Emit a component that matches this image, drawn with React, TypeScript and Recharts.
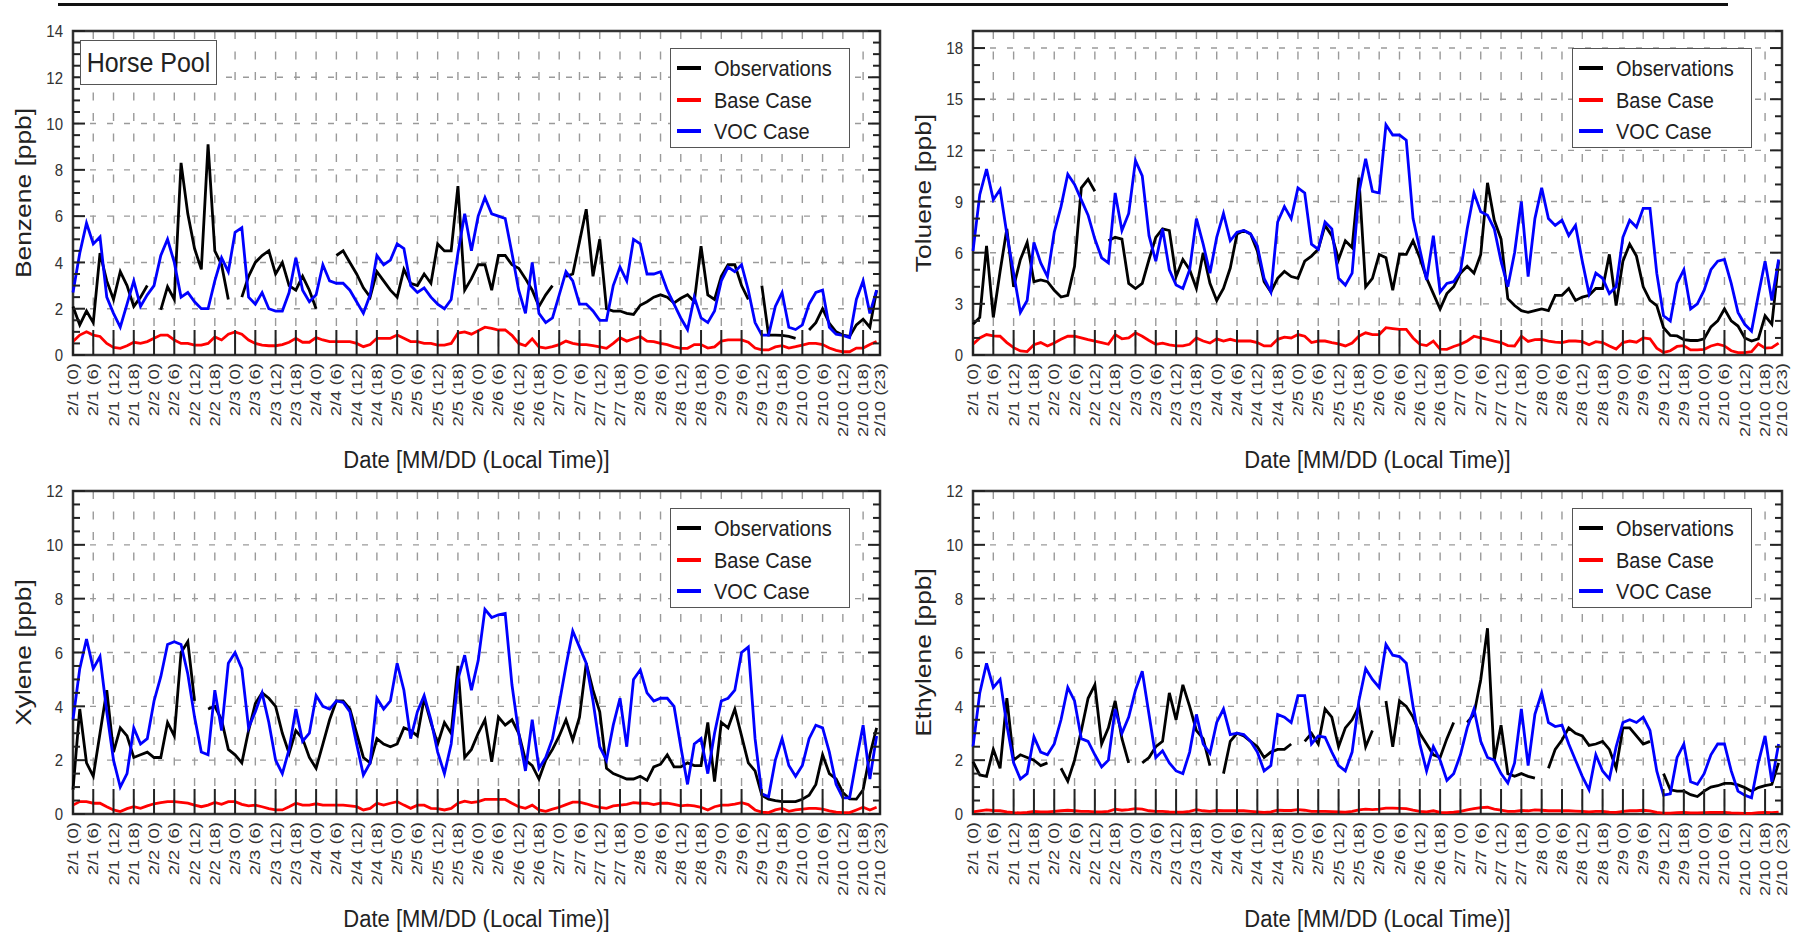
import React from 'react';
import { LineChart, Line, XAxis, YAxis, CartesianGrid, ReferenceArea } from 'recharts';

// hourly model/obs time series, sampled every 2 hours from 2/1 00:00 to 2/10 22:00
const HOURS = Array.from({ length: 120 }, (_, i) => i * 2);
const X_TICKS = [
  0, 6, 12, 18, 24, 30, 36, 42, 48, 54, 60, 66, 72, 78, 84, 90, 96, 102, 108, 114,
  120, 126, 132, 138, 144, 150, 156, 162, 168, 174, 180, 186, 192, 198, 204, 210,
  216, 222, 228, 234, 239,
];
const DAYS = ['2/1', '2/2', '2/3', '2/4', '2/5', '2/6', '2/7', '2/8', '2/9', '2/10'];

const BENZENE_OBS = [
  2.1, 1.3, 1.9, 1.4, 4.4, 3.2, 2.4, 3.6, 3.0, 2.1, 2.5, 3.0,
  null, 1.95, 2.95, 2.4, 8.3, 6.1, 4.6, 3.7, 9.1, 4.5, 3.9, 2.4,
  null, 2.5, 3.4, 4.0, 4.3, 4.5, 3.5, 4.0, 3.0, 2.8, 3.4, 2.8,
  2.0, null, null, 4.3, 4.5, 4.0, 3.5, 2.9, 2.5, 3.6, 3.2, 2.8,
  2.5, 3.7, 3.1, 3.0, 3.5, 3.1, 4.8, 4.5, 4.5, 7.3, 2.8, 3.3,
  3.9, 3.9, 2.8, 4.3, 4.3, 3.9, 3.75, 3.3, 2.8, 2.1, 2.6, 3.0,
  null, 3.4, 3.5, 4.9, 6.3, 3.4, 5.0, 2.0, 1.9, 1.9, 1.8, 1.75,
  2.15, 2.3, 2.5, 2.6, 2.5, 2.25, 2.45, 2.6, 2.3, 4.7, 2.6, 2.4,
  3.4, 3.9, 3.9, 3.0, 2.4, null, 3.0, 0.86, 0.86, 0.85, 0.8, 0.72,
  null, 1.08, 1.4, 2.0, 1.37, 1.0, 0.86, 0.8, 1.3, 1.55, 1.2, 2.8,
];
const BENZENE_BASE = [
  0.58, 0.86, 1.0, 0.86, 0.8, 0.5, 0.33, 0.29, 0.4, 0.55, 0.5, 0.58,
  0.72, 0.86, 0.86, 0.65, 0.5, 0.5, 0.43, 0.43, 0.5, 0.78, 0.65, 0.9,
  1.0, 0.9, 0.65, 0.5, 0.43, 0.4, 0.4, 0.45, 0.55, 0.72, 0.55, 0.55,
  0.75, 0.65, 0.58, 0.58, 0.58, 0.58, 0.5, 0.36, 0.45, 0.72, 0.72, 0.72,
  0.86, 0.72, 0.58, 0.58, 0.5, 0.5, 0.43, 0.43, 0.5, 0.95, 1.0, 0.9,
  1.05, 1.2, 1.15, 1.08, 1.08, 0.85, 0.5, 0.4, 0.7, 0.35, 0.3, 0.36,
  0.45, 0.6, 0.5, 0.45, 0.45, 0.4, 0.35, 0.29, 0.5, 0.75, 0.6, 0.7,
  0.8, 0.6, 0.58, 0.5, 0.45, 0.35, 0.29, 0.29, 0.45, 0.45, 0.3, 0.35,
  0.6, 0.65, 0.65, 0.65, 0.55, 0.3, 0.22, 0.22, 0.35, 0.4, 0.3, 0.36,
  0.43, 0.5, 0.5, 0.45, 0.3, 0.2, 0.14, 0.14, 0.3, 0.3, 0.45, 0.58,
];
const BENZENE_VOC = [
  2.7, 4.4, 5.7, 4.8, 5.1, 2.5, 1.8, 1.2, 2.2, 3.2, 2.1, 2.6,
  3.0, 4.3, 5.0, 4.0, 2.5, 2.7, 2.3, 2.0, 2.0, 3.2, 4.2, 3.6,
  5.3, 5.5, 2.5, 2.2, 2.7, 2.0, 1.9, 1.9, 2.7, 4.2, 2.8, 2.3,
  2.6, 3.9, 3.2, 3.1, 3.1, 2.8, 2.3, 1.8, 2.6, 4.3, 3.9, 4.1,
  4.8, 4.6, 3.0, 2.7, 2.9, 2.5, 2.2, 2.0, 2.4, 4.4, 6.1, 4.5,
  6.0, 6.8, 6.1, 6.0, 5.9, 4.4, 2.8, 1.8, 4.0, 1.8, 1.4, 1.6,
  2.6, 3.6, 3.2, 2.2, 2.2, 1.9, 1.5, 1.5, 3.0, 3.8, 3.2, 5.0,
  4.8, 3.5, 3.5, 3.6, 2.8, 2.2, 1.6, 1.1, 2.5, 1.6, 1.4, 1.9,
  3.2, 3.8, 3.6, 3.9, 2.8, 1.4, 0.86, 0.86, 2.1, 2.7, 1.2, 1.1,
  1.3, 2.2, 2.7, 2.8, 1.2, 0.9, 0.85, 0.75, 2.4, 3.2, 1.8, 2.8,
];

const TOLUENE_OBS = [
  1.8, 2.2, 6.4, 2.2, 4.9, 7.4, 4.0, 5.6, 6.6, 4.3, 4.4, 4.3,
  3.8, 3.4, 3.5, 5.2, 9.8, 10.3, 9.6, null, 6.7, 6.9, 6.8, 4.2,
  3.9, 4.2, 5.6, 6.9, 7.4, 7.3, 4.6, 5.6, 5.0, 3.9, 6.0, 4.2,
  3.2, 3.9, 5.1, 7.1, 7.3, 7.1, 6.1, 4.3, 3.7, 4.5, 4.9, 4.6,
  4.5, 5.5, 5.8, 6.2, 7.6, 7.0, 5.6, 6.7, 6.3, 10.4, 4.0, 4.5,
  5.9, 5.7, 3.8, 5.9, 5.9, 6.7, 5.7, 4.5, 3.6, 2.7, 3.6, 4.0,
  4.8, 5.2, 4.8, 5.9, 10.1, 7.9, 6.8, 3.3, 2.9, 2.6, 2.5, 2.6,
  2.7, 2.6, 3.5, 3.5, 3.9, 3.2, 3.4, 3.5, 3.9, 3.9, 5.9, 2.9,
  5.5, 6.5, 5.8, 4.0, 3.2, 2.9, 1.6, 1.15, 1.12, 0.9, 0.85, 0.85,
  0.95, 1.65, 2.0, 2.7, 2.0, 1.7, 1.0, 0.82, 0.95, 2.3, 1.8, 5.5,
];
const TOLUENE_BASE = [
  0.63, 1.0, 1.2, 1.12, 1.1, 0.73, 0.43, 0.24, 0.2, 0.6, 0.73, 0.53,
  0.7, 0.92, 1.1, 1.1, 1.0, 0.9, 0.82, 0.73, 0.63, 1.2, 0.95, 1.0,
  1.3, 1.1, 0.85, 0.63, 0.7, 0.6, 0.53, 0.53, 0.63, 1.0, 0.82, 0.7,
  0.95, 0.82, 0.92, 0.82, 0.82, 0.82, 0.73, 0.53, 0.53, 0.92, 1.05, 1.0,
  1.2, 1.1, 0.73, 0.82, 0.82, 0.73, 0.65, 0.53, 0.7, 1.1, 1.3, 1.2,
  1.2, 1.6, 1.55, 1.5, 1.5, 1.0, 0.63, 0.55, 0.82, 0.35, 0.33, 0.5,
  0.63, 0.82, 1.1, 1.0, 0.92, 0.82, 0.73, 0.55, 0.53, 1.1, 0.8, 0.9,
  0.92, 0.82, 0.75, 0.73, 0.82, 0.82, 0.78, 0.6, 0.78, 0.73, 0.53, 0.35,
  0.73, 0.82, 0.75, 1.0, 0.95, 0.4, 0.15, 0.25, 0.5, 0.55, 0.3, 0.3,
  0.33, 0.53, 0.63, 0.53, 0.25, 0.14, 0.14, 0.2, 0.65, 0.4, 0.43, 0.7,
];
const TOLUENE_VOC = [
  6.1, 9.4, 10.9, 9.1, 9.7, 7.1, 4.8, 2.5, 3.2, 6.6, 5.4, 4.6,
  7.2, 8.7, 10.6, 10.0, 9.1, 8.2, 6.8, 5.7, 5.4, 9.5, 7.3, 8.3,
  11.4, 10.5, 7.0, 5.5, 7.4, 5.0, 4.1, 3.9, 5.0, 8.0, 6.5, 4.8,
  6.9, 8.3, 6.7, 7.2, 7.3, 7.1, 6.4, 4.5, 3.7, 7.8, 8.7, 8.0,
  9.8, 9.5, 6.5, 6.2, 7.8, 7.4, 4.5, 4.1, 4.8, 9.5, 11.5, 9.6,
  9.5, 13.5, 12.9, 12.9, 12.6, 8.0, 6.2, 4.4, 7.0, 3.7, 4.2, 4.3,
  4.9, 7.4, 9.5, 8.4, 8.2, 7.4, 5.5, 4.0, 6.0, 9.0, 4.6, 8.0,
  9.8, 8.0, 7.6, 7.9, 7.0, 7.6, 5.5, 3.6, 4.8, 4.5, 3.6, 4.0,
  6.9, 7.9, 7.5, 8.6, 8.6, 4.8, 2.3, 2.0, 4.2, 5.0, 2.7, 3.0,
  3.8, 5.0, 5.5, 5.6, 4.2, 2.5, 1.8, 1.4, 3.5, 5.5, 3.2, 5.6,
];

const XYLENE_OBS = [
  0.9, 3.9, 1.9, 1.4, 3.0, 4.6, 2.3, 3.2, 2.9, 2.1, 2.2, 2.3,
  2.1, 2.1, 3.4, 2.9, 6.0, 6.4, 4.2, null, 3.9, 4.0, 3.5, 2.4,
  2.2, 1.9, 3.1, 4.1, 4.5, 4.3, 4.0, 3.0, 2.25, 3.1, 2.8, 2.1,
  1.7, 2.6, 3.5, 4.2, 4.2, 3.9, 3.0, 2.1, 1.9, 2.8, 2.6, 2.5,
  2.6, 3.2, 3.1, 2.9, 4.3, 3.4, 2.6, 3.4, 3.0, 5.5, 2.1, 2.4,
  3.0, 3.5, 1.94, 3.6, 3.3, 3.5, 3.0, 2.0, 1.8, 1.3, 2.0, 2.4,
  2.9, 3.5, 2.75, 3.6, 5.6, 4.6, 3.8, 1.7, 1.5, 1.4, 1.3, 1.3,
  1.4, 1.25, 1.75, 1.85, 2.2, 1.75, 1.75, 1.9, 1.8, 1.8, 3.4, 1.2,
  3.4, 3.2, 3.9, 2.9, 1.9, 1.6, 0.7, 0.55, 0.5, 0.46, 0.46, 0.46,
  0.55, 0.7, 1.1, 2.2, 1.5, 1.3, 0.8, 0.56, 0.55, 0.9, 2.2, 3.2,
];
const XYLENE_BASE = [
  0.33, 0.46, 0.46, 0.4, 0.4, 0.27, 0.15, 0.09, 0.2, 0.27, 0.21, 0.3,
  0.38, 0.42, 0.46, 0.46, 0.43, 0.4, 0.33, 0.27, 0.33, 0.43, 0.36, 0.46,
  0.46, 0.36, 0.3, 0.33, 0.27, 0.2, 0.15, 0.15, 0.27, 0.4, 0.33, 0.33,
  0.38, 0.33, 0.33, 0.33, 0.33, 0.3, 0.27, 0.15, 0.21, 0.4, 0.33, 0.4,
  0.46, 0.33, 0.21, 0.33, 0.33, 0.21, 0.2, 0.15, 0.21, 0.4, 0.48, 0.42,
  0.46, 0.54, 0.54, 0.54, 0.54, 0.4, 0.27, 0.21, 0.33, 0.15, 0.1, 0.18,
  0.25, 0.35, 0.44, 0.44, 0.38, 0.3, 0.25, 0.21, 0.3, 0.33, 0.36, 0.42,
  0.4, 0.4, 0.35, 0.4, 0.4, 0.36, 0.3, 0.33, 0.3, 0.25, 0.15, 0.27,
  0.33, 0.33, 0.37, 0.42, 0.35, 0.15, 0.07, 0.05, 0.15, 0.21, 0.1, 0.15,
  0.18, 0.21, 0.21, 0.18, 0.12, 0.07, 0.05, 0.05, 0.15, 0.25, 0.15, 0.25,
];
const XYLENE_VOC = [
  3.5, 5.4, 6.5, 5.4, 5.85, 3.8, 2.0, 1.0, 1.5, 3.2, 2.6, 2.8,
  4.2, 5.1, 6.3, 6.4, 6.3, 5.2, 3.6, 2.3, 2.2, 4.6, 3.1, 5.6,
  6.0, 5.4, 3.2, 3.8, 4.5, 3.4, 2.0, 1.5, 2.4, 3.9, 2.7, 3.0,
  4.4, 4.0, 3.9, 4.2, 4.15, 3.8, 2.6, 1.45, 1.9, 4.3, 3.9, 4.2,
  5.6, 4.6, 2.8, 3.8, 4.4, 3.5, 2.3, 1.5, 2.6, 5.0, 5.9, 4.6,
  5.7, 7.6, 7.3, 7.4, 7.45, 4.8, 3.0, 1.6, 3.5, 1.7, 2.1, 2.8,
  4.1, 5.5, 6.8, 6.2, 5.6, 4.2, 2.5, 2.0, 3.3, 4.3, 2.5, 5.0,
  5.35, 4.5, 4.2, 4.3, 4.3, 4.0, 2.5, 1.1, 2.6, 2.8, 1.5, 3.0,
  4.2, 4.3, 4.6, 6.0, 6.2, 2.8, 0.75, 0.64, 2.0, 2.8, 1.8, 1.4,
  1.8, 2.8, 3.3, 3.2, 2.3, 1.1, 0.6, 0.6, 2.0, 3.3, 1.3, 2.9,
];

const ETHYLENE_OBS = [
  1.95, 1.45, 1.4, 2.4, 1.7, 4.3, 2.0, 2.2, 2.1, 2.0, 1.8, 1.9,
  null, 1.7, 1.22, 2.0, 3.1, 4.3, 4.8, 2.6, 3.2, 4.2, 2.8, 1.9,
  null, 1.9, 2.1, 2.5, 2.7, 4.5, 3.5, 4.8, 4.0, 3.1, 2.8, 1.8,
  null, 1.5, 2.7, 3.0, 2.9, 2.7, 2.5, 2.1, 2.3, 2.4, 2.4, 2.6,
  null, 2.7, 3.0, 2.6, 3.9, 3.6, 2.5, 3.2, 3.5, 4.0, 2.5, 3.1,
  null, 4.2, 2.5, 4.2, 4.0, 3.6, 3.0, 2.6, 2.2, 2.1, 2.8, 3.4,
  null, 3.4, 3.7, 5.0, 6.9, 2.0, 3.3, 1.5, 1.4, 1.5, 1.4, 1.33,
  null, 1.7, 2.4, 2.75, 3.2, 3.0, 2.9, 2.55, 2.6, 2.7, 2.4, 1.7,
  3.2, 3.2, 2.9, 2.6, 2.7, null, 1.5, 0.9, 0.85, 0.85, 0.72, 0.65,
  0.85, 1.0, 1.05, 1.14, 1.14, 1.08, 0.98, 0.85, 0.98, 1.05, 1.1, 1.9,
];
const ETHYLENE_BASE = [
  0.08, 0.12, 0.15, 0.13, 0.12, 0.08, 0.05, 0.04, 0.06, 0.1, 0.08, 0.08,
  0.1, 0.12, 0.14, 0.12, 0.1, 0.1, 0.08, 0.08, 0.1, 0.18, 0.14, 0.16,
  0.2, 0.18, 0.12, 0.1, 0.1, 0.08, 0.07, 0.07, 0.1, 0.16, 0.12, 0.1,
  0.13, 0.12, 0.12, 0.12, 0.12, 0.1, 0.08, 0.06, 0.08, 0.14, 0.13, 0.13,
  0.16, 0.14, 0.1, 0.1, 0.1, 0.09, 0.08, 0.07, 0.1, 0.15, 0.18, 0.16,
  0.18, 0.22, 0.22, 0.21, 0.2, 0.14, 0.1, 0.08, 0.12, 0.06, 0.05, 0.07,
  0.1, 0.15, 0.2, 0.24, 0.25, 0.18, 0.14, 0.1, 0.1, 0.13, 0.12, 0.15,
  0.14, 0.12, 0.12, 0.12, 0.12, 0.11, 0.1, 0.08, 0.1, 0.1, 0.07, 0.06,
  0.1, 0.12, 0.12, 0.14, 0.12, 0.06, 0.03, 0.03, 0.05, 0.06, 0.04, 0.04,
  0.05, 0.06, 0.06, 0.06, 0.04, 0.03, 0.02, 0.02, 0.05, 0.06, 0.05, 0.07,
];
const ETHYLENE_VOC = [
  2.5, 4.5, 5.6, 4.7, 5.0, 3.3, 1.9, 1.3, 1.5, 2.87, 2.3, 2.2,
  2.6, 3.5, 4.7, 4.2, 2.8, 2.7, 2.2, 1.75, 2.0, 3.9, 3.0, 3.6,
  4.6, 5.3, 3.7, 2.1, 2.35, 1.9, 1.6, 1.5, 2.3, 3.7, 2.6, 2.25,
  3.4, 3.9, 2.95, 3.0, 2.95, 2.7, 2.3, 1.6, 1.8, 3.7, 3.6, 3.4,
  4.4, 4.4, 2.6, 2.9, 2.85, 2.3, 1.8, 1.6, 2.3, 4.2, 5.4, 5.0,
  4.7, 6.3, 5.9, 5.85, 5.6, 4.0, 2.6, 1.6, 2.5, 2.0, 1.25, 1.5,
  2.2, 3.2, 3.9, 2.7, 2.1, 2.0, 1.5, 1.15, 1.9, 3.9, 1.8, 3.7,
  4.5, 3.4, 3.25, 3.3, 2.6, 2.0, 1.4, 0.9, 2.2, 1.6, 1.3, 2.5,
  3.4, 3.5, 3.4, 3.6, 3.1, 1.6, 0.7, 0.75, 2.1, 2.6, 1.2, 1.1,
  1.5, 2.2, 2.6, 2.6, 1.6, 0.85, 0.7, 0.6, 1.9, 2.9, 1.2, 2.6,
];

const SERIES = [
  { key: 'obs', name: 'Observations', color: '#000000' },
  { key: 'base', name: 'Base Case', color: '#ff0000' },
  { key: 'voc', name: 'VOC Case', color: '#0000ff' },
];

const PANELS = [
  { title: 'Benzene [ppb]', left: 73, top: 31, w: 807, h: 324, max: 14, major: 2, minor: 0.5, obs: BENZENE_OBS, base: BENZENE_BASE, voc: BENZENE_VOC },
  { title: 'Toluene [ppb]', left: 973, top: 31, w: 809, h: 324, max: 19, major: 3, minor: 1, obs: TOLUENE_OBS, base: TOLUENE_BASE, voc: TOLUENE_VOC },
  { title: 'Xylene [ppb]', left: 73, top: 491, w: 807, h: 323, max: 12, major: 2, minor: 0.5, obs: XYLENE_OBS, base: XYLENE_BASE, voc: XYLENE_VOC },
  { title: 'Ethylene [ppb]', left: 973, top: 491, w: 809, h: 323, max: 12, major: 2, minor: 0.5, obs: ETHYLENE_OBS, base: ETHYLENE_BASE, voc: ETHYLENE_VOC },
];

const FONT = '"Liberation Sans", Arial, Helvetica, sans-serif';
const Y_AXIS_W = 73;
const PAD_TOP = 31;
const PAD_RIGHT = 20;
const X_AXIS_H = 90;
const PAD_BOTTOM = 40;

const tickLabel = (h) => `${DAYS[Math.floor(h / 24)]} (${h % 24})`;

function steps(max, step) {
  const out = [];
  for (let k = 0; k * step <= max + 1e-9; k++) out.push(Math.round(k * step * 100) / 100);
  return out;
}

function Panel({ p }) {
  const rows = HOURS.map((h, i) => ({ h, obs: p.obs[i], base: p.base[i], voc: p.voc[i] }));
  const majors = steps(p.max, p.major);
  const minors = steps(p.max, p.minor);
  const isMajor = (v) => Math.abs(v / p.major - Math.round(v / p.major)) < 1e-6;

  const yTick = ({ x, y, payload }) => {
    const v = payload.value;
    const big = isMajor(v);
    const len = big ? 12 : 7;
    return (
      <g>
        <line x1={x} y1={y} x2={x + len} y2={y} stroke="#222" strokeWidth={2} />
        <line x1={x + p.w} y1={y} x2={x + p.w - len} y2={y} stroke="#222" strokeWidth={2} />
        {big && (
          <text transform={`translate(${x - 10},${y}) scale(1,1.15)`} textAnchor="end" dy="0.36em"
            fontSize={15} fill="#333" fontFamily={FONT}>{v}</text>
        )}
      </g>
    );
  };

  const xTick = ({ x, y, payload }) => (
    <g>
      <line x1={x} y1={y} x2={x} y2={y - 25} stroke="#222" strokeWidth={2} />
      <text transform={`translate(${x},${y + 8}) scale(1,1.32) rotate(-90)`} textAnchor="end" dy="0.36em"
        fontSize={14} fill="#333" fontFamily={FONT}>{tickLabel(payload.value)}</text>
    </g>
  );

  return (
    <div style={{ position: 'absolute', left: p.left - Y_AXIS_W, top: p.top - PAD_TOP }}>
      <LineChart
        width={Y_AXIS_W + p.w + PAD_RIGHT}
        height={PAD_TOP + p.h + X_AXIS_H + PAD_BOTTOM}
        data={rows}
        margin={{ top: PAD_TOP, right: PAD_RIGHT, bottom: PAD_BOTTOM, left: 0 }}
      >
        <CartesianGrid vertical={false} horizontalValues={majors.filter((v) => v > 0 && v < p.max)}
          stroke="#9a9a9a" strokeWidth={1.4} strokeDasharray="6 11" />
        <CartesianGrid horizontal={false} verticalValues={X_TICKS.filter((h) => h > 0 && h < 239)}
          stroke="#9a9a9a" strokeWidth={1.4} strokeDasharray="8 12.5" />
        <XAxis dataKey="h" type="number" domain={[0, 239]} ticks={X_TICKS} interval={0}
          height={X_AXIS_H} tickLine={false} axisLine={false} tickSize={0} tickMargin={0} tick={xTick} />
        <YAxis type="number" domain={[0, p.max]} ticks={minors} interval={0} width={Y_AXIS_W}
          tickLine={false} axisLine={false} tickSize={0} tickMargin={0} tick={yTick} />
        <ReferenceArea x1={0} x2={239} y1={0} y2={p.max} fill="none" stroke="#333" strokeWidth={2.5} />
        {SERIES.map((s) => (
          <Line key={s.key} dataKey={s.key} type="linear" stroke={s.color} strokeWidth={2.8}
            dot={false} activeDot={false} isAnimationActive={false} connectNulls={false} />
        ))}
      </LineChart>
    </div>
  );
}

function LegendBox({ left, top }) {
  const rowY = [19, 51, 82];
  return (
    <div style={{ position: 'absolute', left, top, width: 180, height: 100, border: '1.5px solid #555',
      background: '#fff', boxSizing: 'border-box' }}>
      {SERIES.map((s, i) => (
        <div key={s.key} style={{ position: 'absolute', left: 0, top: rowY[i] - 13, height: 26,
          display: 'flex', alignItems: 'center' }}>
          <div style={{ marginLeft: 6, width: 24, height: 4, background: s.color }} />
          <span style={{ marginLeft: 13, fontSize: 20, color: '#222', display: 'inline-block',
            transform: 'scaleY(1.1)', whiteSpace: 'nowrap' }}>{s.name}</span>
        </div>
      ))}
    </div>
  );
}

export default function App() {
  return (
    <div style={{ position: 'absolute', left: 0, top: 0, width: 1806, height: 935, background: '#fff',
      fontFamily: FONT, overflow: 'hidden' }}>
      <div style={{ position: 'absolute', left: 58, top: 3, width: 1670, height: 3, background: '#111' }} />
      {PANELS.map((p) => <Panel key={p.title} p={p} />)}
      <svg width={1806} height={935} style={{ position: 'absolute', left: 0, top: 0, pointerEvents: 'none' }}>
        {PANELS.map((p) => (
          <g key={p.title}>
            <text transform={`translate(${p.left - 50},${p.top + p.h / 2}) scale(1,1.2) rotate(-90)`}
              textAnchor="middle" dominantBaseline="central" fontSize={22} fill="#222" fontFamily={FONT}>
              {p.title}
            </text>
            <text transform={`translate(${p.left + p.w / 2},${p.top + p.h + 105}) scale(1,1.06)`}
              textAnchor="middle" dominantBaseline="central" fontSize={22} fill="#222" fontFamily={FONT}>
              Date [MM/DD (Local Time)]
            </text>
          </g>
        ))}
      </svg>
      {PANELS.map((p) => (
        <LegendBox key={p.title} left={p.left + p.w - 30 - 180} top={p.top + 17} />
      ))}
      <div style={{ position: 'absolute', left: 80, top: 40, width: 137, height: 45, border: '1.5px solid #555',
        background: '#fff', boxSizing: 'border-box', display: 'flex', alignItems: 'center',
        justifyContent: 'center' }}>
        <span style={{ fontSize: 25, color: '#222', display: 'inline-block', transform: 'scaleY(1.12)' }}>
          Horse Pool
        </span>
      </div>
    </div>
  );
}
